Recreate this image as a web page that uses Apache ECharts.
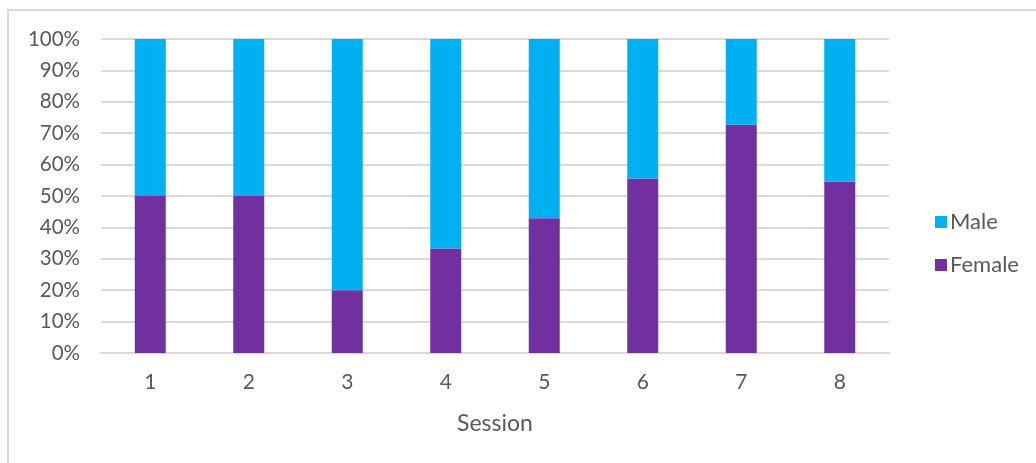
<!DOCTYPE html>
<html>
<head>
<meta charset="utf-8">
<script src="https://cdn.jsdelivr.net/npm/echarts@6/dist/echarts.min.js"></script>
<style>
html,body{margin:0;padding:0;background:#fff;overflow:hidden;}
#frame{position:absolute;left:7px;top:9px;width:1100px;height:500px;border:1px solid #d9d9d9;border-width:2px 0 0 2px;box-sizing:border-box;}
#chart{position:absolute;left:0;top:0;width:1036px;height:463px;}
</style>
</head>
<body>
<div id="frame"></div>
<div id="chart"></div>
<script>
const categories = ['1','2','3','4','5','6','7','8'];
const female = [50, 50, 20, 33.3, 42.9, 55.6, 72.7, 54.5];
const male = [50, 50, 80, 66.7, 57.1, 44.4, 27.3, 45.5];
const seriesNames = ['Male', 'Female'];
const axisTitle = 'Session';

const font = 'Lato, "Open Sans", sans-serif';
const chart = echarts.init(document.getElementById('chart'), null, {renderer:'canvas'});
chart.setOption({
  animation: false,
  backgroundColor: 'transparent',
  grid: {left: 101, right: 147, top: 39, bottom: 110, containLabel: false},
  legend: {
    orient: 'vertical', left: 930, top: 206,
    data: seriesNames,
    itemWidth: 12, itemHeight: 12, itemGap: 21,
    icon: 'rect',
    textStyle: {color: '#595959', fontSize: 22, fontFamily: font, padding: [0,0,0,-2]}
  },
  xAxis: {
    type: 'category', data: categories,
    name: axisTitle, nameLocation: 'middle', nameGap: 59,
    nameTextStyle: {color: '#595959', fontSize: 23, fontFamily: font},
    axisLine: {show: true, lineStyle: {color: '#d9d9d9', width: 2}},
    axisTick: {show: false},
    axisLabel: {color: '#595959', fontSize: 21, fontFamily: font, margin: 19}
  },
  yAxis: {
    type: 'value', min: 0, max: 100, interval: 10,
    axisLine: {show: false}, axisTick: {show: false},
    axisLabel: {color: '#595959', fontSize: 20.5, fontFamily: font, margin: 21, formatter: v => v + '%'},
    splitLine: {lineStyle: {color: '#d9d9d9', width: 2}}
  },
  series: [
    {name: 'Female', type: 'bar', stack: 's', data: female, barWidth: 31, itemStyle: {color: '#7030A0'}},
    {name: 'Male', type: 'bar', stack: 's', data: male, barWidth: 31, itemStyle: {color: '#00B0F0'}}
  ]
});
</script>
</body>
</html>
